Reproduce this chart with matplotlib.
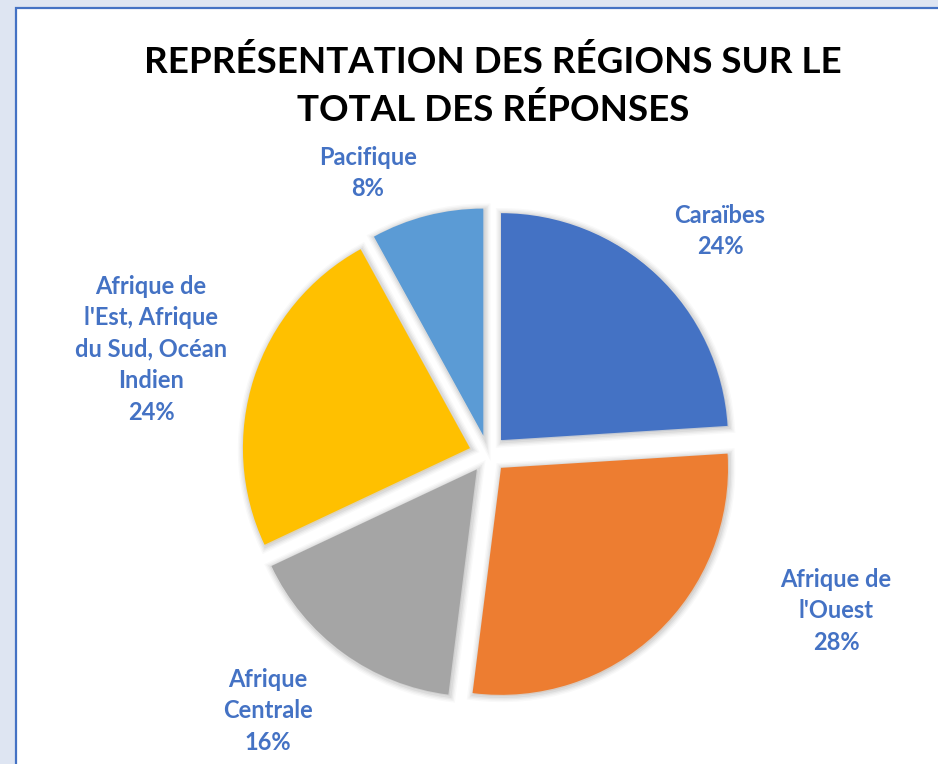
import matplotlib
matplotlib.use("Agg")
import matplotlib.pyplot as plt
from matplotlib.patches import Rectangle
import matplotlib.patheffects as pe

# ---- data ----
categories = ["Caraïbes", "Afrique de l'Ouest", "Afrique Centrale",
              "Afrique de l'Est, Afrique du Sud, Océan Indien", "Pacifique"]
label_lines = ["Caraïbes", "Afrique de\nl'Ouest", "Afrique\nCentrale",
               "Afrique de\nl'Est, Afrique\ndu Sud, Océan\nIndien", "Pacifique"]
shares = [24, 28, 16, 24, 8]
title_lines = ["REPRÉSENTATION DES RÉGIONS SUR LE", "TOTAL DES RÉPONSES"]

# ---- style / layout ----
colors = ["#4472C4", "#ED7D31", "#A5A5A5", "#FFC000", "#5B9BD5"]
label_color = "#4472C4"
FONT = ["Lato", "DejaVu Sans"]
W, H = 938, 764
pie_center = (488, H - 454)
pie_radius = 227
explode_px = 19
# label block centres (pixels from left / top)
label_pos = [(720, 231), (836, 611), (268, 711), (151, 349), (368, 173)]
line_pitch = 31.5

fig = plt.figure(figsize=(W / 100, H / 100), dpi=100)
fig.patch.set_facecolor("#DEE5F2")
ax = fig.add_axes([0, 0, 1, 1])

ax.add_patch(Rectangle((16, -20), W + 50, H - 8 + 20, facecolor="white",
                       edgecolor="#4472C4", lw=1.6, zorder=0))

wedges, _ = ax.pie(shares, colors=colors, startangle=90, counterclock=False,
                   center=pie_center, radius=pie_radius,
                   explode=[explode_px] * len(shares),
                   wedgeprops=dict(linewidth=0))
shadow = [pe.Stroke(linewidth=lw, foreground="black", alpha=a, offset=(0.8, -0.8))
          for lw, a in [(9, 0.025), (7, 0.03), (5, 0.04), (3, 0.05)]]
for w in wedges:
    w.set_zorder(2)
    w.set_path_effects(shadow + [pe.Normal()])

ax.set_xlim(0, W)
ax.set_ylim(0, H)
ax.set_aspect("equal")
ax.axis("off")

# title
for i, t in enumerate(title_lines):
    ax.text(493, H - (62 + 48 * i), t, ha="center", va="center",
            fontsize=26.5, fontweight="bold", color="black", family=FONT)

# data labels
for (x, y), lab, v in zip(label_pos, label_lines, shares):
    lines = lab.split("\n") + [f"{v}%"]
    n = len(lines)
    for j, s in enumerate(lines):
        yy = y + (j - (n - 1) / 2) * line_pitch
        ax.text(x, H - yy, s, ha="center", va="center", fontsize=17,
                fontweight="bold", color=label_color, family=FONT)

fig.savefig("out.png", dpi=100, facecolor=fig.get_facecolor())
